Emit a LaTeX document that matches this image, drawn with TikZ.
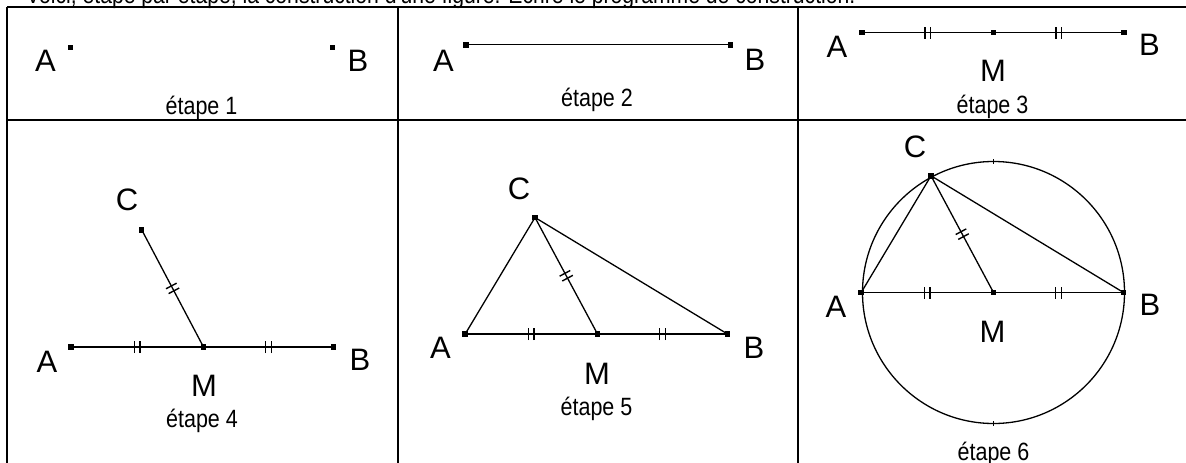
\documentclass[tikz,border=0pt]{standalone}
\usepackage{fontspec}
\setmainfont{Liberation Sans}
\newfontfamily\narrowfont[FakeStretch=0.86]{Liberation Sans}
\tikzset{
  ptsq/.style={fill=black, draw=none, rectangle, minimum size=5.5pt, inner sep=0pt},
  lbl/.style={font=\fontsize{31}{31}\selectfont, anchor=base, inner sep=0pt},
  capt/.style={font=\narrowfont\fontsize{25}{25}\selectfont, anchor=base, inner sep=0pt},
  seg/.style={line width=1.3pt, black},
  frame/.style={line width=2.3pt, black},
  dtick/.pic={\draw[line width=1.4pt] (-2.75pt,-6pt) -- (-2.75pt,6pt) (2.75pt,-6pt) -- (2.75pt,6pt);}
}
\begin{document}
\begin{tikzpicture}[x=1pt,y=-1pt]
\useasboundingbox (0,0) rectangle (1186,463);
\clip (0,0) rectangle (1186,463);
% title (cut off at the top)
\node[capt, font=\narrowfont\fontsize{24.6}{24.6}\selectfont, anchor=base west] (title) at (26,4) {Voici, étape par étape, la construction d'une figure. Écrire le programme de construction.};
% table
\draw[frame] (7,7) -- (1220,7);
\draw[frame] (7,120) -- (1220,120);
\draw[frame] (7,7) -- (7,480);
\draw[frame] (398,7) -- (398,480);
\draw[frame] (798,7) -- (798,480);

% step 1
\node[ptsq] (a1) at (70.5,47.5) {};
\node[ptsq] (b1) at (332.5,47.5) {};
\node[lbl] (la1) at (45.5,71.5) {A};
\node[lbl] (lb1) at (358,71) {B};
\node[capt] (e1) at (201.5,114) {étape 1};

% step 2
\node[ptsq] (a2) at (466,44.8) {};
\node[ptsq] (b2) at (730.5,44.8) {};
\draw[seg] (a2.center) -- (b2.center);
\node[lbl] (la2) at (443.5,71) {A};
\node[lbl] (lb2) at (755,70.5) {B};
\node[capt] (e2) at (597,106) {étape 2};

% step 3
\node[ptsq] (a3) at (861.8,32.5) {};
\node[ptsq] (m3) at (993.5,32.5) {};
\node[ptsq] (b3) at (1124,32.5) {};
\draw[seg] (a3.center) -- pic[pos=.5,sloped]{dtick} (m3.center) -- pic[pos=.5,sloped]{dtick} (b3.center);
\node[lbl] (la3) at (837,57) {A};
\node[lbl] (lb3) at (1149.5,55.5) {B};
\node[lbl] (lm3) at (993,81.5) {M};
\node[capt] (e3) at (992.5,113) {étape 3};

% step 4
\node[ptsq] (a4) at (70.8,347) {};
\node[ptsq] (m4) at (203.5,347) {};
\node[ptsq] (b4) at (333.5,347) {};
\node[ptsq] (c4) at (141.7,229.8) {};
\draw[seg] (a4.center) -- pic[pos=.5,sloped]{dtick} (m4.center) -- pic[pos=.5,sloped]{dtick} (b4.center);
\draw[seg] (c4.center) -- pic[pos=.5,sloped]{dtick} (m4.center);
\node[lbl] (la4) at (47,372) {A};
\node[lbl] (lb4) at (360,370) {B};
\node[lbl] (lm4) at (204,396.5) {M};
\node[lbl] (lc4) at (127,210) {C};
\node[capt] (e4) at (202,427) {étape 4};

% step 5
\node[ptsq] (a5) at (465.2,334) {};
\node[ptsq] (m5) at (597.5,334) {};
\node[ptsq] (b5) at (727.5,334) {};
\node[ptsq] (c5) at (535,217.5) {};
\draw[seg] (a5.center) -- pic[pos=.5,sloped]{dtick} (m5.center) -- pic[pos=.5,sloped]{dtick} (b5.center);
\draw[seg] (c5.center) -- pic[pos=.5,sloped]{dtick} (m5.center);
\draw[seg] (c5.center) -- (a5.center);
\draw[seg] (c5.center) -- (b5.center);
\node[lbl] (la5) at (440.5,358) {A};
\node[lbl] (lb5) at (754,358) {B};
\node[lbl] (lm5) at (597,384) {M};
\node[lbl] (lc5) at (519,199) {C};
\node[capt] (e5) at (596.5,415) {étape 5};

% step 6
\node[ptsq] (a6) at (861.2,292.5) {};
\node[ptsq] (m6) at (993.5,292.5) {};
\node[ptsq] (b6) at (1123.5,292.5) {};
\node[ptsq] (c6) at (931,175.8) {};
\draw[seg] (m6.center) circle[radius=131];
\draw[seg] (993.5,159) -- (993.5,164);
\draw[seg] (993.5,421) -- (993.5,426);
\draw[seg] (a6.center) -- pic[pos=.5,sloped]{dtick} (m6.center) -- pic[pos=.5,sloped]{dtick} (b6.center);
\draw[seg] (c6.center) -- pic[pos=.5,sloped]{dtick} (m6.center);
\draw[seg] (c6.center) -- (a6.center);
\draw[seg] (c6.center) -- (b6.center);
\node[lbl] (la6) at (836,317) {A};
\node[lbl] (lb6) at (1150,315) {B};
\node[lbl] (lm6) at (992.5,342) {M};
\node[lbl] (lc6) at (915,157) {C};
\node[capt] (e6) at (993.5,460) {étape 6};
\end{tikzpicture}
\end{document}
